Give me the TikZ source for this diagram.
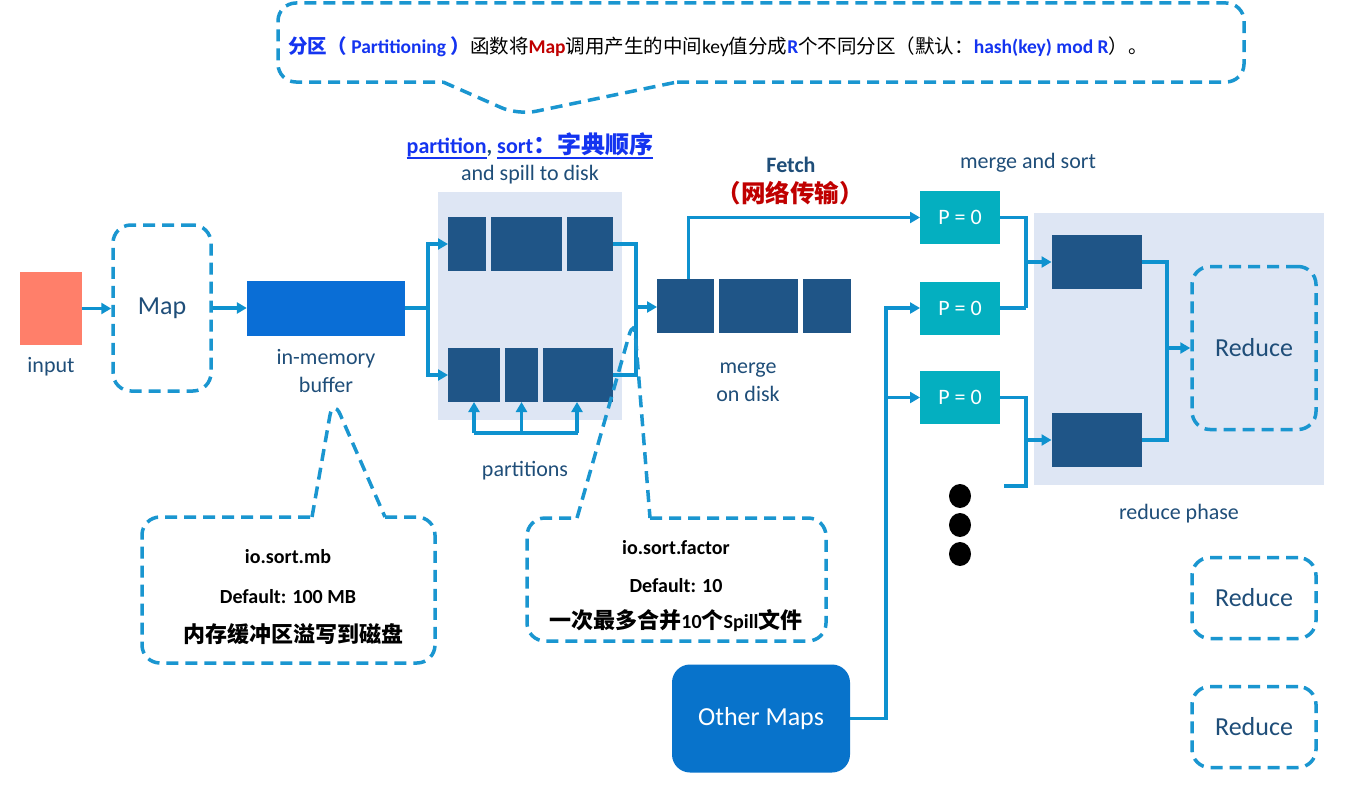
\documentclass[tikz,border=0pt]{standalone}
\usepackage{fontspec}
\setmainfont{Carlito}
\newfontfamily\cjk{Noto Sans CJK SC}
\usetikzlibrary{arrows.meta,calc}
\definecolor{lineblue}{HTML}{0E92CF}
\definecolor{dashblue}{HTML}{1A96D0}
\definecolor{darkbox}{HTML}{1F5587}
\definecolor{bufblue}{HTML}{0A6ED6}
\definecolor{tealbox}{HTML}{04AFC0}
\definecolor{othersblue}{HTML}{0873CB}
\definecolor{panelbg}{HTML}{DEE6F4}
\definecolor{salmon}{HTML}{FF7F6A}
\definecolor{labelblue}{HTML}{1F4E79}
\definecolor{linkblue}{HTML}{1434F0}
\definecolor{darkred}{HTML}{C00000}
\newcommand\myfs[1]{\fontsize{#1}{#1}\selectfont}
\newcommand\myul[1]{\setbox0\hbox{#1}\rlap{\rule[-5pt]{\wd0}{1.6pt}}\box0}
\begin{document}
\begin{tikzpicture}[x=1pt,y=-1pt,
  line/.style={draw=lineblue, line width=3.5pt},
  arr/.style={line, -{Triangle[length=10pt,width=11pt]}},
  dbox/.style={draw=dashblue, line width=3.5pt, dash pattern=on 12pt off 7pt, rounded corners=18pt},
  blk/.style={fill=darkbox, inner sep=0, outer sep=0, minimum height=54pt},
  lbl/.style={text=labelblue, font=\myfs{22}, inner sep=0, align=center},
  pbox/.style={fill=tealbox, text=white, font=\myfs{22}, minimum width=80pt, minimum height=53pt, inner sep=0, outer sep=0},
  note/.style={font=\myfs{20}\bfseries, inner sep=0},
  redbox/.style={dbox, text=labelblue, font=\myfs{26}, minimum width=124pt, inner sep=0}]
\useasboundingbox (0,0) rectangle (1354,792);
\fill[white] (0,0) rectangle (1354,792);

% panels
\node[fill=panelbg, minimum width=184pt, minimum height=228pt, inner sep=0] (panel1) at (530,306) {};
\node[fill=panelbg, minimum width=290pt, minimum height=272pt, inner sep=0] (panel2) at (1179,349) {};

% top callout
\coordinate (tL) at (443,82); \coordinate (tA) at (518,115); \coordinate (tR) at (677,82);
\draw[dbox] (tR) -- (1244,82) -- (1244,3) -- (278,3) -- (278,82) -- (tL);
\draw[dbox] (tL) -- (tA) -- (tR);
\node[inner sep=0, font=\myfs{19.5}] (toptext) at (718,47) {{\color{linkblue}\bfseries{\cjk 分区（} Partitioning {\cjk ）}}{\cjk 函数将}{\color{darkred}\bfseries Map}{\cjk 调用产生的中间}key{\cjk 值分成}{\color{linkblue}\bfseries R}{\cjk 个不同分区（默认：}{\color{linkblue}\bfseries hash(key) mod R}{\cjk ）。}};

% input and map
\node[fill=salmon, minimum width=62pt, minimum height=73pt, inner sep=0] (input) at (51,308.5) {};
\node[lbl] (inlbl) at (51,367) {input};
\node[dbox, minimum width=98pt, minimum height=166pt, text=labelblue, font=\myfs{26}, inner sep=0] (map) at (162,308) {Map};
\node[fill=bufblue, minimum width=158pt, minimum height=55pt, inner sep=0] (buf) at (326,308) {};
\node[lbl, font=\fontsize{22}{28}\selectfont] (buflbl) at (326,371) {in-memory\\buffer};

\draw[arr] (input.east) -- (input.east -| map.west);
\draw[arr] (map.east |- buf.west) -- (buf.west);

% spill rows
\node[blk, minimum width=38pt] (t1) at (467,244) {};
\node[blk, minimum width=71pt] (t2) at (526.5,244) {};
\node[blk, minimum width=46pt] (t3) at (590,244) {};
\node[blk, minimum width=52pt] (b1) at (474,375) {};
\node[blk, minimum width=33pt] (b2) at (521.5,375) {};
\node[blk, minimum width=70pt] (b3) at (578,375) {};

\node[inner sep=0, font=\myfs{22}\bfseries, text=linkblue] (pslbl) at (530,146) {\myul{partition}{\color{labelblue},} \myul{sort{\fontsize{24}{24}\selectfont\cjk ：字典顺序}}};
\node[lbl] (spilllbl) at (530,175) {and spill to disk};

\coordinate (split) at (428,308);
\draw[line] (buf.east) -- (split);
\draw[arr] (split) |- (t1.west);
\draw[arr] (split) |- (b1.west);

\coordinate (pbar) at (522,433);
\draw[line] (b1 |- pbar) -- (b3 |- pbar);
\draw[arr] (b1 |- pbar) -- (b1.south);
\draw[arr] (b2 |- pbar) -- (b2.south);
\draw[arr] ($(b3 |- pbar)+(-1,0)$) -- ($(b3.south)+(-1,0)$);
\node[lbl] (partlbl) at (525,471) {partitions};

% merge on disk
\node[blk, minimum width=57pt] (m1) at (685.5,306) {};
\node[blk, minimum width=79pt] (m2) at (758.5,306) {};
\node[blk, minimum width=48pt] (m3) at (827,306) {};
\node[lbl, font=\fontsize{22}{28}\selectfont] (mlbl) at (748,382) {merge\\on disk};

\coordinate (jn) at (636,307);
\draw[line] (t3.east) -| (jn);
\draw[line] (b3.east) -| (jn);
\draw[arr] (jn) -- (m1.west |- jn);

% fetch
\node[inner sep=0, font=\myfs{22}\bfseries, text=labelblue] (fetch) at (791,165) {Fetch};
\node[inner sep=0, font=\myfs{24.5}\bfseries\cjk, text=darkred] (net) at (790,193) {（网络传输）};
\node[lbl] (mslbl) at (1028,163) {merge and sort};

% partitions at reducer
\node[pbox] (p1) at (960,217.5) {P = 0};
\node[pbox] (p2) at (960,308) {P = 0};
\node[pbox] (p3) at (960,397.5) {P = 0};

\draw[arr] ($(m1.north)+(3,0)$) |- (p1.west);

% other maps
\node[fill=othersblue, rounded corners=18pt, minimum width=178pt, minimum height=108pt, text=white, font=\myfs{26}, inner sep=0] (others) at (761,718.5) {Other Maps};
\coordinate (bus) at (886,397.5);
\draw[arr] (others.east) -| (bus) |- (p2.west);
\draw[arr] (bus) -- (p3.west);

% reduce side
\node[blk, minimum width=90pt] (r1) at (1096.5,262) {};
\node[blk, minimum width=90pt] (r2) at (1096.5,440) {};
\node[redbox, minimum height=163pt] (red1) at (1254,348) {Reduce};

\coordinate (c1) at (1026,308);
\draw[line] (p1.east) -| (c1);
\draw[line] (p2.east) -- (c1);
\draw[arr] (c1 |- r1) -- (r1.west);

\coordinate (c2) at (1026,486);
\coordinate (c2end) at (1004,486);
\draw[line] (p3.east) -| (c2) -- (c2end);
\draw[arr] (c2 |- r2) -- (r2.west);

\coordinate (c3) at (1167,348);
\draw[line] (r1.east) -| (c3);
\draw[line] (r2.east) -| (c3);
\draw[arr] (c3) -- (red1.west);

\node[lbl] (rplbl) at (1179,514) {reduce phase};

\fill (960,496) ellipse [x radius=11pt, y radius=12pt];
\fill (960,525) ellipse [x radius=11pt, y radius=12pt];
\fill (960,554) ellipse [x radius=11pt, y radius=12pt];

\node[redbox, minimum height=81pt] (red2) at (1254,598) {Reduce};
\node[redbox, minimum height=81pt] (red3) at (1254,727) {Reduce};

% callout 1
\coordinate (aL) at (312,517); \coordinate (aA) at (333,398); \coordinate (aR) at (385,517);
\draw[dbox] (aR) -- (435,517) -- (435,663) -- (142,663) -- (142,517) -- (aL);
\draw[dbox] (aL) -- (aA) -- (aR);
\node[note] (n1a) at (288,557) {io.sort.mb};
\node[note] (n1b) at (288,597) {Default: 100 MB};
\node[note, font=\myfs{22}\bfseries] (n1c) at (293,634) {\cjk 内存缓冲区溢写到磁盘};

% callout 2
\coordinate (bL) at (577,518); \coordinate (bA) at (634,318); \coordinate (bR) at (650,518);
\draw[dbox] (bR) -- (826,518) -- (826,641) -- (527,641) -- (527,518) -- (bL);
\draw[dbox] (bL) -- (bA) -- (bR);
\node[note] (n2a) at (676,548) {io.sort.factor};
\node[note] (n2b) at (676,586) {Default: 10};
\node[note] (n2c) at (676,621) {{\fontsize{22}{22}\selectfont\cjk 一次最多合并}10{\fontsize{22}{22}\selectfont\cjk 个}Spill{\fontsize{22}{22}\selectfont\cjk 文件}};
\end{tikzpicture}
\end{document}
